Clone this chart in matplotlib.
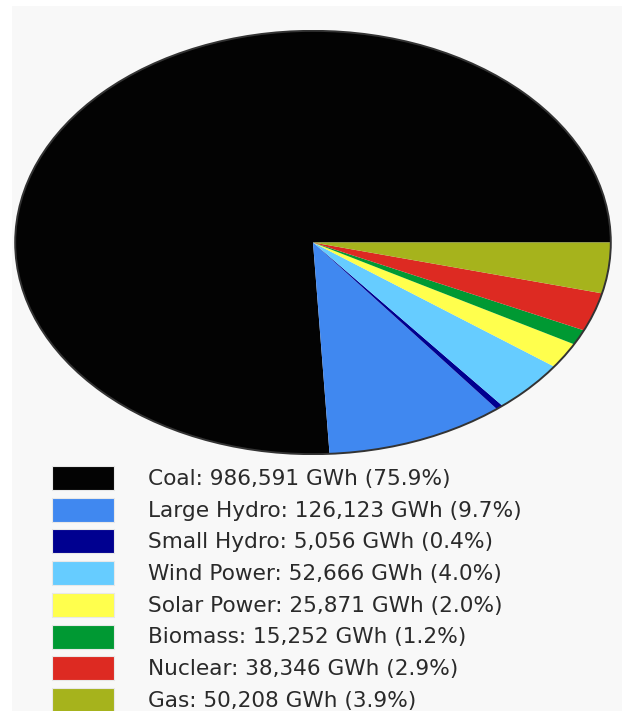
import matplotlib
matplotlib.use("Agg")
import matplotlib.pyplot as plt
from matplotlib.patches import Rectangle, Circle

sources = ["Coal", "Large Hydro", "Small Hydro", "Wind Power", "Solar Power", "Biomass", "Nuclear", "Gas"]
gwh = [986591, 126123, 5056, 52666, 25871, 15252, 38346, 50208]
shares = ["75.9", "9.7", "0.4", "4.0", "2.0", "1.2", "2.9", "3.9"]
colors = ["#030303", "#4088f0", "#000090", "#66ccff", "#ffff4d", "#009933", "#dd2a22", "#a6b31c"]

W, H = 622, 711
fig = plt.figure(figsize=(W / 100, H / 100), dpi=100, facecolor="white")
plt.rcParams["font.family"] = ["DejaVu Sans"]

# light panel background
fig.patches.append(Rectangle((12 / W, 0), 1 - 12 / W, 1 - 6 / H, transform=fig.transFigure,
                             facecolor="#f8f8f8", edgecolor="none", zorder=-5))

# pie axes (ellipse bbox)
x0, x1, y0, y1 = 14, 612, 30, 455
ax = fig.add_axes([x0 / W, 1 - y1 / H, (x1 - x0) / W, (y1 - y0) / H], zorder=2)
ax.patch.set_visible(False)
ax.pie(gwh, colors=colors, startangle=0, counterclock=True,
       wedgeprops=dict(linewidth=0, edgecolor="none", antialiased=True))
ax.add_patch(Circle((0, 0), 1, fill=False, edgecolor="#333333", linewidth=1.4))
ax.set_aspect("auto")
ax.set_xlim(-1.004, 1.004)
ax.set_ylim(-1.004, 1.004)
ax.axis("off")

# legend
top = 466
step = 31.7
for i, (name, v, p, c) in enumerate(zip(sources, gwh, shares, colors)):
    yt = top + i * step
    fig.patches.append(Rectangle((52 / W, 1 - (yt + 24) / H), 62 / W, 24 / H, transform=fig.transFigure,
                                 facecolor=c, edgecolor="#e8e8e8", linewidth=0.8, zorder=2))
    fig.text(148 / W, 1 - (yt + 13) / H, f"{name}: {v:,} GWh ({p}%)",
             fontsize=15.6, color="#2a2a2a", va="center", ha="left")

fig.savefig("out.png", dpi=100, facecolor="white")
